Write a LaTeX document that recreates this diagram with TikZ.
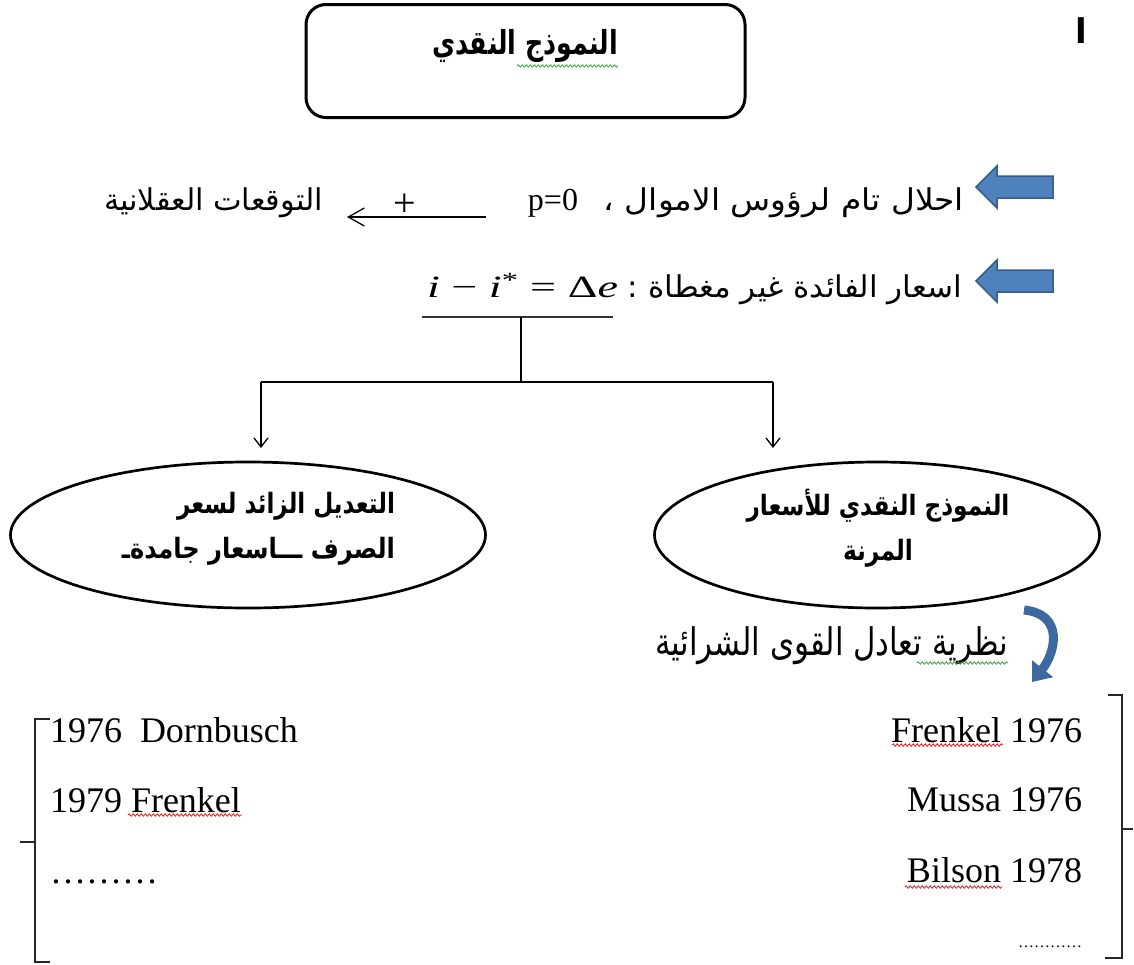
\documentclass[tikz,border=0pt]{standalone}
\usepackage{fontspec}
\usepackage{graphicx}
\setmainfont{Liberation Serif}
\newfontfamily\ar[Script=Arabic]{DejaVu Sans}
\TeXXeTstate=1
\usetikzlibrary{shapes.geometric,arrows.meta,decorations.pathmorphing}
\definecolor{arrowfill}{HTML}{4F81BD}
\definecolor{arrowline}{HTML}{385D8A}
\definecolor{curvecol}{HTML}{3D6A9E}
\definecolor{spellred}{HTML}{E02020}
\definecolor{spellgreen}{HTML}{3CA03C}
\newcommand{\fitAR}[2]{\resizebox{#1}{\height}{#2}}
\newcommand{\arfs}{\ar\fontsize{30}{34}\selectfont}
\newcommand{\arbfs}{\ar\bfseries\fontsize{28}{32}\selectfont}
\newcommand{\arbig}{\ar\fontsize{38}{42}\selectfont}
\newcommand{\latbig}{\fontsize{36}{40}\selectfont}
\newcommand{\blockarrow}[2]{%
  \filldraw[barrow] (#1,#2) -- ++(21,-21) -- ++(0,10) -- ++(56,0) -- ++(0,22) -- ++(-56,0) -- ++(0,10) -- cycle;}
\tikzset{
  txt/.style={inner sep=0pt, outer sep=0pt},
  barrow/.style={fill=arrowfill, draw=arrowline, line width=1.5pt, line join=miter},
  thinline/.style={line width=1.3pt, black},
  thinarrow/.style={line width=1.3pt, black, -{Straight Barb[length=16pt,width=18pt,line width=1.3pt]}},
  downarrow/.style={line width=1.3pt, black, -{Straight Barb[length=9pt,width=14pt,line width=1.3pt]}},
  ell/.style={ellipse, draw, line width=2.7pt, inner sep=0pt},
  bracket/.style={line width=1.6pt, black!85},
  wavyred/.style={spellred, line width=0.8pt, decorate, decoration={snake, segment length=4pt, amplitude=1.2pt}},
  wavygreen/.style={spellgreen, line width=0.8pt, decorate, decoration={snake, segment length=4pt, amplitude=1.2pt}}
}
\begin{document}
\begin{tikzpicture}[x=1pt, y=-1pt]
\useasboundingbox[fill=white] (0,0) rectangle (1134,964);

% title
\node[draw, rounded corners=20pt, line width=3pt, minimum width=439pt, minimum height=113pt, inner sep=0pt] (titlebox) at (525.5,61) {};
\node[txt, anchor=base, font=\ar\bfseries\fontsize{33}{36}\selectfont] (title) at (525,54) {\fitAR{186pt}{\beginR النموذج النقدي\endR}};
\coordinate (tw1) at (517,66); \coordinate (tw2) at (618,66);
\draw[wavygreen] (tw1) -- (tw2);

% stray mark top right
\node[txt, anchor=base, font=\ar\bfseries\fontsize{34}{36}\selectfont] (alif) at (1081,43) {ا};

% row 1
\blockarrow{976}{187}
\node[txt, anchor=base east, font=\arfs] (r1a) at (964,210) {\fitAR{360pt}{\beginR احلال تام لرؤوس الاموال ،\endR}};
\node[txt, anchor=base east, font=\fontsize{32}{36}\selectfont] (r1p) at (578,210) {p=0};
\coordinate (a1s) at (486,217); \coordinate (a1e) at (347,217);
\draw[thinarrow] (a1s) -- (a1e);
\node[txt, font=\fontsize{40}{44}\selectfont] (plus) at (405,205) {+};
\node[txt, anchor=base west, font=\arfs] (r1b) at (104,210) {\fitAR{219pt}{\beginR التوقعات العقلانية\endR}};

% row 2
\blockarrow{976}{281}
\node[txt, anchor=base east, font=\arfs] (r2a) at (962,297) {\fitAR{334pt}{\beginR اسعار الفائدة غير مغطاة :\endR}};
\node[txt, anchor=base west, font=\fontsize{31}{34}\selectfont] (r2m) at (427,297) {\resizebox{191pt}{\height}{\textit{i} − \textit{i}\textsuperscript{*} = Δ\textit{e}}};

% connectors
\coordinate (ulL) at (422,317); \coordinate (ulR) at (613,317);
\coordinate (stem) at (521,317); \coordinate (junc) at (521,382);
\coordinate (brL) at (261,382); \coordinate (brR) at (773,382);
\coordinate (tipL) at (261,448); \coordinate (tipR) at (773,448);
\draw[line width=2pt, black!80] (ulL) -- (ulR);
\draw[thinline] (stem) -- (junc);
\draw[thinline] (brL) -- (brR);
\draw[downarrow] (brL) -- (tipL);
\draw[downarrow] (brR) -- (tipR);

% ellipses
\node[ell, minimum width=475pt, minimum height=146pt] (elL) at (248,535) {};
\node[ell, minimum width=445pt, minimum height=146pt] (elR) at (877,535) {};
\node[txt, anchor=base east, font=\arbfs] (eL1) at (395,513) {\fitAR{218pt}{\beginR التعديل الزائد لسعر\endR}};
\node[txt, anchor=base east, font=\arbfs] (eL2) at (395,558) {\fitAR{273pt}{\beginR الصرف ـــاسعار جامدةـ\endR}};
\node[txt, anchor=base, font=\arbfs] (eR1) at (878,515) {\fitAR{263pt}{\beginR النموذج النقدي للأسعار\endR}};
\node[txt, anchor=base, font=\arbfs] (eR2) at (878,560) {\fitAR{70pt}{\beginR المرنة\endR}};

% PPP
\node[txt, anchor=base east, font=\arbig] (ppp) at (1008,655) {\fitAR{353pt}{\beginR نظرية تعادل القوى الشرائية\endR}};
\coordinate (pw1) at (917,663); \coordinate (pw2) at (1008,663);
\draw[wavygreen] (pw1) -- (pw2);
\coordinate (cA) at (1024,610); \coordinate (cB) at (1032,682);
\draw[curvecol, line width=9pt, -{Triangle[length=17pt,width=26pt]}] (cA) .. controls (1064,614) and (1056,652) .. (cB);

% lists
\node[txt, anchor=base west, font=\latbig] (d1) at (50,742) {1976\ \ Dornbusch};
\node[txt, anchor=base west, font=\latbig] (d2) at (50,812) {1979 Frenkel};
\node[txt, anchor=base west, font=\latbig] (d3) at (50,883) {………};
\node[txt, anchor=base east, font=\latbig] (f1) at (1082,742) {Frenkel 1976};
\node[txt, anchor=base east, font=\latbig] (f2) at (1082,811) {Mussa 1976};
\node[txt, anchor=base east, font=\latbig] (f3) at (1082,882) {Bilson 1978};
\node[txt, anchor=base east, font=\fontsize{16}{18}\selectfont] (f4) at (1082,947) {…………};
\coordinate (w1a) at (128,815); \coordinate (w1b) at (242,815);
\coordinate (w2a) at (892,745); \coordinate (w2b) at (1003,745);
\coordinate (w3a) at (905,887); \coordinate (w3b) at (1002,887);
\draw[wavyred] (w1a) -- (w1b);
\draw[wavyred] (w2a) -- (w2b);
\draw[wavyred] (w3a) -- (w3b);

% brackets
\coordinate (lb1) at (50,719); \coordinate (lb2) at (35,719);
\coordinate (lb3) at (35,962); \coordinate (lb4) at (50,962);
\coordinate (lm1) at (35,842); \coordinate (lm2) at (20,842);
\draw[bracket] (lb1) -- (lb2) -- (lb3) -- (lb4);
\draw[bracket] (lm1) -- (lm2);
\coordinate (rb1) at (1108,695); \coordinate (rb2) at (1122,695);
\coordinate (rb3) at (1122,958); \coordinate (rb4) at (1105,958);
\coordinate (rm1) at (1122,829); \coordinate (rm2) at (1133,829);
\draw[bracket] (rb1) -- (rb2) -- (rb3) -- (rb4);
\draw[bracket] (rm1) -- (rm2);
\end{tikzpicture}
\end{document}
